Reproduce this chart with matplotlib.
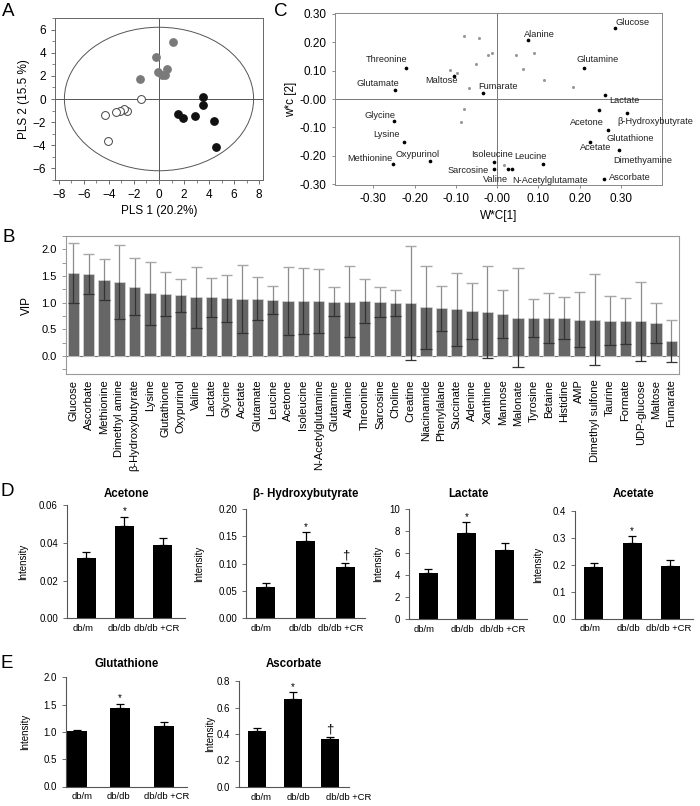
import numpy as np
import matplotlib
matplotlib.use('Agg')
import matplotlib.pyplot as plt
from matplotlib.patches import Ellipse
from matplotlib.ticker import MultipleLocator, FormatStrFormatter

plt.rcParams['font.family'] = ['Liberation Sans', 'DejaVu Sans']

# ---------------- data ----------------
# A: PLS score plot (three groups)
dbdb_x = [1.15, -0.24, -1.55, 0.6, -0.1, 0.2, 0.5]
dbdb_y = [4.89, 3.63, 1.74, 2.6, 2.35, 2.05, 2.1]
cr_x = [3.5, 3.5, 1.5, 1.9, 2.85, 4.35, 4.55]
cr_y = [0.2, -0.55, -1.3, -1.65, -1.5, -1.9, -4.15]
dbm_x = [-1.45, -2.55, -2.8, -3.1, -3.45, -4.3, -4.05]
dbm_y = [0.0, -1.0, -0.85, -1.05, -1.1, -1.4, -3.6]

# C: loading plot
met_names = ['Threonine', 'Glutamate', 'Maltose', 'Glycine', 'Lysine', 'Methionine',
             'Oxypurinol', 'Glucose', 'Alanine', 'Glutamine', 'Fumarate', 'Lactate',
             'Acetone', 'β-Hydroxybutyrate', 'Glutathione', 'Acetate', 'Dimethyamine',
             'Leucine', 'Isoleucine', 'Sarcosine', 'Valine', 'N-Acetylglutamate', 'Ascorbate']
met_x = [-0.222, -0.248, -0.104, -0.249, -0.226, -0.252, -0.162, 0.286, 0.074, 0.210,
         -0.033, 0.262, 0.248, 0.315, 0.268, 0.226, 0.295, 0.112, -0.007, -0.007,
         0.027, 0.037, 0.260]
met_y = [0.110, 0.030, 0.081, -0.076, -0.150, -0.230, -0.218, 0.248, 0.206, 0.109,
         0.020, 0.014, -0.040, -0.049, -0.110, -0.151, -0.180, -0.228, -0.221, -0.245,
         -0.245, -0.247, -0.282]
other_x = [-0.079, -0.045, -0.052, -0.115, -0.097, -0.069, -0.080, -0.088, -0.022,
           -0.012, 0.045, 0.089, 0.063, 0.115, 0.184, 0.017]
other_y = [0.221, 0.215, 0.124, 0.102, 0.090, 0.039, -0.036, -0.080, 0.153,
           0.162, 0.153, 0.162, 0.104, 0.067, 0.043, -0.233]

# B: VIP scores
vip_names = ['Glucose', 'Ascorbate', 'Methionine', 'Dimethyl amine', 'β-Hydroxybutyrate',
             'Lysine', 'Glutathione', 'Oxypurinol', 'Valine', 'Lactate', 'Glycine',
             'Acetate', 'Glutamate', 'Leucine', 'Acetone', 'Isoleucine',
             'N-Acetylglutamine', 'Glutamine', 'Alanine', 'Threonine', 'Sarcosine',
             'Choline', 'Creatine', 'Niacinamide', 'Phenylalane', 'Succinate', 'Adenine',
             'Xanthine', 'Mannose', 'Malonate', 'Tyrosine', 'Betaine', 'Histidine', 'AMP',
             'Dimethyl sulfone', 'Taurine', 'Formate', 'UDP-glucose', 'Maltose', 'Fumarate']
vip_val = [1.56, 1.53, 1.43, 1.39, 1.30, 1.175, 1.16, 1.14, 1.10, 1.10, 1.08, 1.07,
           1.07, 1.05, 1.03, 1.03, 1.03, 1.02, 1.02, 1.03, 1.01, 1.00, 0.99, 0.91,
           0.89, 0.875, 0.84, 0.825, 0.79, 0.72, 0.71, 0.71, 0.71, 0.68, 0.68, 0.66,
           0.66, 0.65, 0.62, 0.28]
vip_err = [0.56, 0.375, 0.38, 0.70, 0.53, 0.595, 0.405, 0.31, 0.57, 0.365, 0.44, 0.635,
           0.405, 0.26, 0.63, 0.625, 0.60, 0.28, 0.67, 0.415, 0.285, 0.245, 1.065,
           0.78, 0.42, 0.685, 0.53, 0.865, 0.455, 0.935, 0.35, 0.465, 0.40, 0.51, 0.86,
           0.455, 0.435, 0.745, 0.37, 0.395]

# D / E: group means
groups = ['db/m', 'db/db', 'db/db +CR']
acetone = [0.0321, 0.0491, 0.039]
acetone_err = [0.003, 0.0048, 0.0034]
hydroxybutyrate = [0.0573, 0.1416, 0.0934]
hydroxybutyrate_err = [0.0067, 0.0154, 0.0086]
lactate = [4.15, 7.85, 6.25]
lactate_err = [0.45, 0.95, 0.72]
acetate = [0.190, 0.279, 0.196]
acetate_err = [0.015, 0.026, 0.020]
glutathione = [1.01, 1.43, 1.11]
glutathione_err = [0.03, 0.09, 0.08]
ascorbate = [0.423, 0.667, 0.36]
ascorbate_err = [0.025, 0.048, 0.02]
marks_plain = ['', '*', '']
marks_dagger = ['', '*', '†']

# ---------------- figure ----------------
W, H = 700, 806
fig = plt.figure(figsize=(W / 100, H / 100), dpi=100)


def px_axes(x0, y0, x1, y1):
    return fig.add_axes([x0 / W, 1 - y1 / H, (x1 - x0) / W, (y1 - y0) / H])


def letter(x, y, s):
    fig.text(x / W, 1 - y / H, s, fontsize=13.5, ha='left', va='center')


# ---- A ----
ax = px_axes(55, 18, 263, 180)
ax.add_patch(Ellipse((0, 0), 15.1, 12.4, fill=False, ec='#555555', lw=0.7))
ax.axhline(0, color='#555555', lw=0.7)
ax.axvline(0, color='#555555', lw=0.7)
ax.scatter(dbdb_x, dbdb_y, s=28, c='#7a7a7a', zorder=3)
ax.scatter(cr_x, cr_y, s=28, c='#111111', zorder=3)
ax.scatter(dbm_x, dbm_y, s=32, facecolors='white', edgecolors='#444444', lw=0.7, zorder=3)
ax.set_xlim(-8.3, 8.3)
ax.set_ylim(-7, 7)
ax.xaxis.set_major_locator(MultipleLocator(2))
ax.yaxis.set_major_locator(MultipleLocator(2))
ax.xaxis.set_minor_locator(MultipleLocator(1))
ax.yaxis.set_minor_locator(MultipleLocator(1))
ax.tick_params(which='major', direction='out', length=3, width=0.6, labelsize=8.5, color='#555555')
ax.tick_params(which='minor', direction='out', length=2, width=0.5, color='#555555')
for s in ax.spines.values():
    s.set_color('#666666'); s.set_linewidth(0.7)
ax.set_xlabel('PLS 1 (20.2%)', fontsize=8.5, labelpad=3)
ax.set_ylabel('PLS 2 (15.5 %)', fontsize=8.5, labelpad=2)
letter(2, 12, 'A')

# ---- C ----
ax = px_axes(335, 13, 662, 185)
ax.axhline(0, color='#777777', lw=0.7)
ax.axvline(0, color='#777777', lw=0.7)
ax.scatter(other_x, other_y, s=5, c='#999999', lw=0, zorder=3)
ax.scatter(met_x, met_y, s=7, c='black', lw=0, zorder=3)
label_off = {
    'Threonine': (2, 8, 'right'), 'Glutamate': (4, 7, 'right'), 'Glycine': (1, 5, 'right'),
    'Lysine': (-4, 7, 'right'), 'Methionine': (-1, 6, 'right'), 'Oxypurinol': (9, 7, 'right'),
    'Maltose': (4, -5, 'right'), 'Sarcosine': (-5, -2, 'right'), 'Isoleucine': (19, 7, 'right'),
    'Leucine': (3, 7, 'right'), 'Valine': (0, -11, 'right'), 'N-Acetylglutamate': (0, -11, 'left'),
    'Fumarate': (-5, 7, 'left'), 'Alanine': (-4, 6, 'left'), 'Glucose': (1, 6, 'left'),
    'Glutamine': (-7, 8, 'left'), 'Lactate': (4, -5, 'left'), 'Acetone': (5, -12, 'right'),
    'β-Hydroxybutyrate': (-10, -9, 'left'), 'Glutathione': (-1, -8, 'left'),
    'Acetate': (-10, -6, 'left'), 'Dimethyamine': (-5, -10, 'left'), 'Ascorbate': (5, 2, 'left'),
}
for name, x, y in zip(met_names, met_x, met_y):
    dx, dy, ha = label_off[name]
    ax.annotate(name, (x, y), xytext=(dx, dy), textcoords='offset pixels',
                ha=ha, va='center', fontsize=6.7, color='#222222', annotation_clip=False)
ax.set_xlim(-0.393, 0.40)
ax.set_ylim(-0.302, 0.302)
cticks = [-0.3, -0.2, -0.1, 0.0, 0.1, 0.2, 0.3]
clabels = ['-0.30', '-0.20', '-0.10', '-0.00', '0.10', '0.20', '0.30']
ax.set_xticks(cticks)
ax.set_xticklabels(clabels)
ax.set_yticks(cticks[::-1])
ax.set_yticklabels(clabels[::-1])
ax.tick_params(direction='out', length=2.5, width=0.6, labelsize=8.5, color='#777777')
for s in ax.spines.values():
    s.set_color('#888888'); s.set_linewidth(0.7)
ax.set_xlabel('W*C[1]', fontsize=8.5, labelpad=3)
ax.set_ylabel('w*c [2]', fontsize=8.5, labelpad=2)
letter(274, 12, 'C')

# ---- B ----
ax = px_axes(65.7, 236, 679, 374)
xb = np.arange(len(vip_names))
vv = np.array(vip_val)
ee = np.array(vip_err)
ax.bar(xb, vv, width=0.74, color='#666666', edgecolor='#d8d8d8', lw=0.5, zorder=2)
ax.vlines(xb, vv, vv + ee, color='#8c8c8c', lw=0.9, zorder=3)
ax.hlines(vv + ee, xb - 0.36, xb + 0.36, color='#a8a8a8', lw=1.0, zorder=3)
ax.vlines(xb, vv - ee, vv, color='#333333', lw=0.9, zorder=3)
ax.hlines(vv - ee, xb - 0.36, xb + 0.36, color='#333333', lw=0.9, zorder=3)
ax.axhline(0, color='#777777', lw=0.8, zorder=1)
ax.set_xlim(-0.5, len(vip_names) - 0.5)
ax.set_ylim(-0.34, 2.25)
ax.yaxis.set_major_locator(MultipleLocator(0.5))
ax.yaxis.set_minor_locator(MultipleLocator(0.25))
ax.yaxis.set_major_formatter(FormatStrFormatter('%.1f'))
ax.set_xticks(xb)
ax.set_xticklabels(vip_names, rotation=90, fontsize=8)
ax.tick_params(axis='x', length=0, pad=4)
ax.tick_params(axis='y', which='both', direction='out', length=3, width=0.6,
               labelsize=8, color='#888888')
for s in ax.spines.values():
    s.set_color('#999999'); s.set_linewidth(0.8)
ax.set_ylabel('VIP', fontsize=8.5, labelpad=6)
letter(2, 237, 'B')

# ---- D / E ----
small = [
    # title, values, errors, marks, ymax, step, fmt, axes px box, xlim, width, ylabel x, label px
    ('Acetone', acetone, acetone_err, marks_plain, 0.06, 0.02, '%.2f',
     (67, 505, 185, 618.3), (-0.51, 2.59), 0.5, -0.33, (83, 119, 157)),
    ('β- Hydroxybutyrate', hydroxybutyrate, hydroxybutyrate_err, marks_dagger, 0.20, 0.05, '%.2f',
     (246, 509, 365, 618.3), (-0.49, 2.49), 0.49, -0.35, (261, 300, 341)),
    ('Lactate', lactate, lactate_err, marks_plain, 10, 2, '%d',
     (409, 509.3, 527, 619), (-0.5, 2.58), 0.5, -0.22, (424, 462, 503)),
    ('Acetate', acetate, acetate_err, marks_plain, 0.4, 0.1, '%.1f',
     (575, 510.7, 693, 618.7), (-0.49, 2.59), 0.5, -0.27, (590, 628, 669)),
    ('Glutathione', glutathione, glutathione_err, marks_plain, 2.0, 0.5, '%.1f',
     (65.7, 677.3, 187, 786.5), (-0.25, 2.53), 0.46, -0.29, (82.5, 118, 167)),
    ('Ascorbate', ascorbate, ascorbate_err, marks_dagger, 0.8, 0.2, '%.1f',
     (239.3, 681, 349, 787), (-0.47, 2.52), 0.49, -0.22, (261, 298, 349)),
]
title_y = [494, 494, 494, 494, 664, 664]
for (title, vals, errs, marks, ymax, step, fmt, box, xl, bw, ylx, lpx), ty in zip(small, title_y):
    ax = px_axes(*box)
    xg = np.arange(len(groups))
    ax.bar(xg, vals, width=bw, color='black', zorder=2)
    ax.errorbar(xg, vals, yerr=[np.zeros(len(vals)), errs], fmt='none', ecolor='black',
                elinewidth=0.9, capsize=3, capthick=0.9, zorder=3)
    for xi, v, e, m in zip(xg, vals, errs, marks):
        if m == '*':
            ax.annotate(m, (xi, v + e), xytext=(0, 0), textcoords='offset points',
                        ha='center', va='bottom', fontsize=7)
        elif m:
            ax.annotate(m, (xi, v + e), xytext=(0, 1), textcoords='offset points',
                        ha='center', va='bottom', fontsize=9.5)
    ax.set_xlim(*xl)
    ax.set_ylim(0, ymax)
    ax.yaxis.set_major_locator(MultipleLocator(step))
    ax.yaxis.set_major_formatter(FormatStrFormatter(fmt))
    # category labels sit where the original chart put them
    lab_pos = [xl[0] + (p - box[0]) / (box[2] - box[0]) * (xl[1] - xl[0]) for p in lpx]
    ax.set_xticks(lab_pos)
    ax.set_xticklabels(groups, fontsize=6.8)
    ax.tick_params(axis='x', length=0, pad=4)
    ax.tick_params(axis='y', direction='out', length=3, width=0.6, labelsize=7, color='#555555')
    for side in ['top', 'right']:
        ax.spines[side].set_visible(False)
    for side in ['left', 'bottom']:
        ax.spines[side].set_color('#555555'); ax.spines[side].set_linewidth(0.8)
    ax.set_ylabel('Intensity', fontsize=7)
    ax.yaxis.set_label_coords(ylx, 0.5)
    cx = (box[0] + box[2]) / 2
    fig.text(cx / W, 1 - ty / H, title, fontsize=8.3, fontweight='bold', ha='center', va='center')

letter(1, 492, 'D')
letter(1, 664, 'E')

fig.savefig('out.png', dpi=100)
